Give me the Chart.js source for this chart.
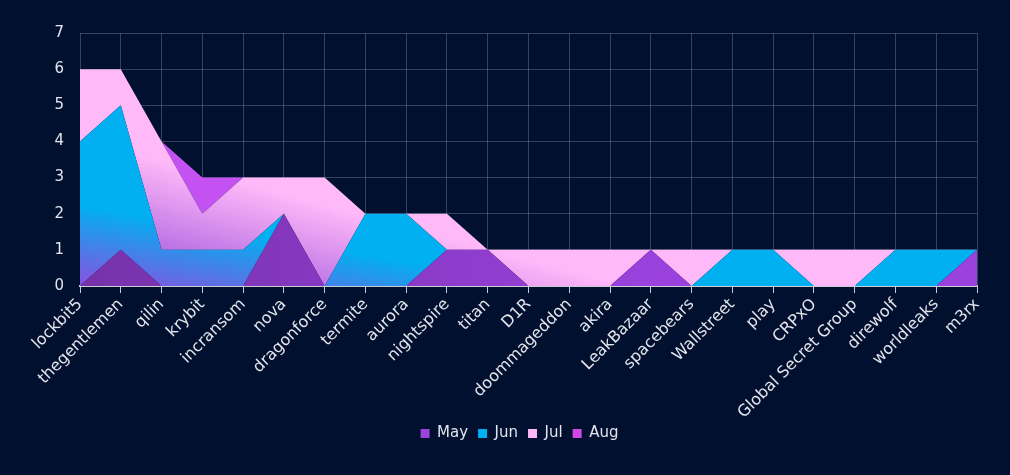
<!DOCTYPE html>
<html>
<head>
<meta charset="utf-8">
<script src="https://cdn.jsdelivr.net/npm/chart.js@4"></script>
<style>
  html, body { margin: 0; padding: 0; background: #00102e; }
  #wrap { width: 1010px; height: 475px; }
</style>
</head>
<body>
<div id="wrap"><canvas id="chart"></canvas></div>
<script>
const groups = ['lockbit5', 'thegentlemen', 'qilin', 'krybit', 'incransom', 'nova', 'dragonforce',
  'termite', 'aurora', 'nightspire', 'titan', 'D1R', 'doommageddon', 'akira', 'LeakBazaar',
  'spacebears', 'Wallstreet', 'play', 'CRPxO', 'Global Secret Group', 'direwolf', 'worldleaks', 'm3rx'];

const may = [0, 1, 0, 0, 0, 2, 0, 0, 0, 1, 1, 0, 0, 0, 1, 0, 0, 0, 0, 0, 0, 0, 1];
const jun = [4, 4, 1, 1, 1, 0, 0, 2, 2, 0, 0, 0, 0, 0, 0, 0, 1, 1, 0, 0, 1, 1, 0];
const jul = [2, 1, 3, 1, 2, 1, 3, 0, 0, 1, 0, 1, 1, 1, 0, 1, 0, 0, 1, 1, 0, 0, 0];
const aug = [0, 0, 0, 1, 0, 0, 0, 0, 0, 0, 0, 0, 0, 0, 0, 0, 0, 0, 0, 0, 0, 0, 0];

const yTicks = [0, 1, 2, 3, 4, 5, 6, 7];

// fills fade from purple at the bottom-left towards their own colour
function tiltGradient(chart, dx, dy, from, to) {
  const a = chart.chartArea;
  if (!a) return to;
  const w = a.right - a.left, h = a.bottom - a.top;
  const g = chart.ctx.createLinearGradient(a.left, a.bottom, a.left + dx * w, a.bottom - dy * h);
  g.addColorStop(0, from);
  g.addColorStop(1, to);
  return g;
}

function mayFill(ctx) {
  const a = ctx.chart.chartArea;
  if (!a) return '#8a3ac8';
  const g = ctx.chart.ctx.createLinearGradient(a.left, 0, a.left + (a.right - a.left) * 0.65, 0);
  g.addColorStop(0, '#7632aa');
  g.addColorStop(1, '#9b42de');
  return g;
}

const legendColors = ['#9a44dc', '#00b0f0', '#ffb8f8', '#d046e6'];
const font = "'DejaVu Sans', sans-serif";

// centre the legend under the plot area instead of the whole canvas
const legendShift = {
  id: 'legendShift',
  afterLayout(chart) {
    const lg = chart.legend, a = chart.chartArea;
    if (!lg) return;
    const dx = (a.left + a.right) / 2 - (lg.left + lg.right) / 2 - 9;
    lg.left += dx;
    lg.right += dx;
  }
};

new Chart(document.getElementById('chart'), {
  type: 'line',
  data: {
    labels: groups,
    datasets: [
      { label: 'May', data: may, fill: 'origin', backgroundColor: mayFill },
      { label: 'Jun', data: jun, fill: '-1',
        backgroundColor: (c) => tiltGradient(c.chart, 0.015, 0.31, '#8a50e0', '#00b0f0') },
      { label: 'Jul', data: jul, fill: '-1',
        backgroundColor: (c) => tiltGradient(c.chart, 0.041, 0.54, '#8a40d8', '#ffb8f8') },
      { label: 'Aug', data: aug, fill: '-1', backgroundColor: '#c452f2' }
    ].map(d => Object.assign(d, { borderWidth: 0, pointRadius: 0, tension: 0 }))
  },
  plugins: [legendShift],
  options: {
    responsive: true,
    maintainAspectRatio: false,
    animation: false,
    layout: { padding: { left: 0, right: 33, top: 33, bottom: 24 } },
    plugins: {
      tooltip: { enabled: false },
      legend: {
        position: 'bottom',
        labels: {
          color: '#e4e4ec',
          font: { family: font, size: 15 },
          boxWidth: 9,
          boxHeight: 9,
          padding: 10,
          generateLabels: (chart) => Chart.defaults.plugins.legend.labels.generateLabels(chart)
            .map((l, i) => Object.assign(l, { fillStyle: legendColors[i], strokeStyle: legendColors[i], lineWidth: 0 }))
        }
      }
    },
    scales: {
      x: {
        offset: false,
        grid: { color: 'rgba(150,160,180,0.35)', tickColor: '#c8ccd4', tickLength: 7 },
        border: { color: '#c8ccd4', width: 2 },
        ticks: {
          color: '#e4e4ec',
          font: { family: font, size: 16 },
          minRotation: 45, maxRotation: 45, autoSkip: false, padding: 2
        },
        afterFit: (s) => { s.height = 130; }
      },
      y: {
        stacked: true,
        min: 0, max: 7,
        afterBuildTicks: (s) => { s.ticks = yTicks.map(v => ({ value: v })); },
        grid: { color: 'rgba(150,160,180,0.35)', drawTicks: false },
        border: { display: false },
        ticks: { color: '#e4e4ec', font: { family: font, size: 15 }, padding: 16 },
        afterFit: (s) => { s.width = 80; }
      }
    }
  }
});
</script>
</body>
</html>
